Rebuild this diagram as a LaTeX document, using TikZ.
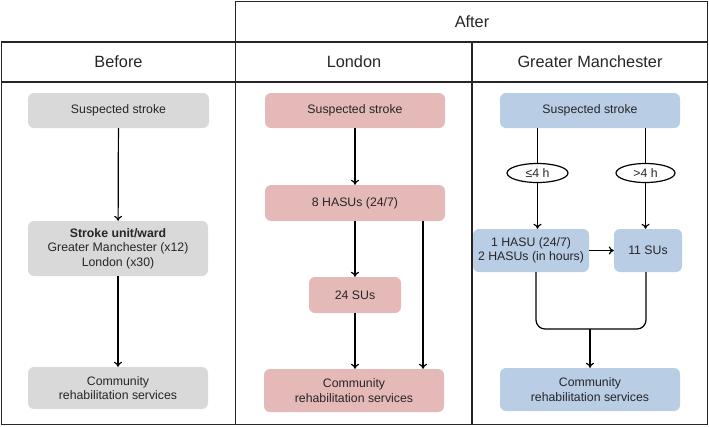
\documentclass[tikz,border=0pt]{standalone}
\usepackage{fontspec}
\setmainfont{Liberation Sans}
\usetikzlibrary{shapes.geometric,arrows.meta}
\definecolor{bgray}{HTML}{D9D9D9}
\definecolor{bpink}{HTML}{E6B9B9}
\definecolor{bblue}{HTML}{B9CDE5}
\begin{document}
\begin{tikzpicture}[x=1pt,y=-1pt,
  frame/.style={draw=black!85,line width=1.4pt},
  head/.style={font=\fontsize{16.3}{19}\selectfont,text=black!85},
  box/.style={rounded corners=6pt,align=center,inner sep=0pt,text=black!85,
    font=\fontsize{12.3}{14.4}\selectfont},
  gbox/.style={box,fill=bgray},
  pbox/.style={box,fill=bpink},
  lbox/.style={box,fill=bblue},
  oval/.style={ellipse,draw=black,line width=1.2pt,inner sep=0pt,
    font=\fontsize{12.3}{14.4}\selectfont,text=black!85},
  arr/.style={-{To[length=5pt,width=8pt]},line width=1.2pt},
  ln/.style={line width=1.2pt}]
\useasboundingbox (0,0) rectangle (709,426);
% table
\draw[frame] (1.5,42) rectangle (707.5,424.5);
\draw[frame] (235.5,1.5) rectangle (707.5,42);
\draw[frame] (1.5,82) -- (707.5,82);
\draw[frame] (235.5,42) -- (235.5,424.5);
\draw[frame] (472,42) -- (472,424.5);
\node[head] (hafter) at (472,22) {After};
\node[head] (hbefore) at (118.5,62) {Before};
\node[head] (hlondon) at (354,62) {London};
\node[head] (hgm) at (590,62) {Greater Manchester};
% Before
\node[gbox,minimum width=181pt,minimum height=35pt] (bs) at (118.5,110.5) {Suspected stroke};
\node[gbox,minimum width=180pt,minimum height=55pt] (bu) at (118,248.5) {\textbf{Stroke unit/ward}\\Greater Manchester (x12)\\London (x30)};
\node[gbox,minimum width=180pt,minimum height=42pt] (bc) at (118,388) {Community\\rehabilitation services};
\draw[arr] (bs) -- (bu);
\draw[arr] (bu) -- (bc);
% London
\node[pbox,minimum width=180pt,minimum height=35pt] (ls) at (355,110.5) {Suspected stroke};
\node[pbox,minimum width=180pt,minimum height=36pt] (lh) at (355,203) {8 HASUs (24/7)};
\node[pbox,minimum width=92pt,minimum height=36pt] (lsu) at (355,295) {24 SUs};
\node[pbox,minimum width=180pt,minimum height=43pt] (lc) at (354,390.5) {Community\\rehabilitation services};
\coordinate (lr) at (423,221);
\draw[arr] (ls) -- (lh);
\draw[arr] (lh) -- (lsu);
\draw[arr] (lsu.south) -- (lsu.south |- lc.north);
\draw[arr] (lr) -- (lr |- lc.north);
% Greater Manchester
\node[lbox,minimum width=180pt,minimum height=35pt] (gs) at (590,110.5) {Suspected stroke};
\node[oval,minimum width=61pt,minimum height=19pt] (e1) at (537.5,173) {≤4 h};
\node[oval,minimum width=59pt,minimum height=19pt] (e2) at (645.5,173) {>4 h};
\node[lbox,minimum width=116pt,minimum height=43pt] (gh) at (531,250.5) {1 HASU (24/7)\\2 HASUs (in hours)};
\node[lbox,minimum width=68pt,minimum height=43pt] (gsu) at (648,250.5) {11 SUs};
\node[lbox,minimum width=180pt,minimum height=43pt] (gc) at (590,389.5) {Community\\rehabilitation services};
\draw[ln] (e1 |- gs.south) -- (e1.north);
\draw[arr] (e1.south) -- (e1 |- gh.north);
\draw[ln] (e2 |- gs.south) -- (e2.north);
\draw[arr] (e2.south) -- (e2 |- gsu.north);
\draw[arr] (gh.east) -- (gsu.west);
\coordinate (m1) at (536,272);
\coordinate (m2) at (646,272);
\coordinate (mj) at (590,329);
\draw[ln,rounded corners=9pt] (m1) -- (m1 |- mj) -- (m2 |- mj) -- (m2);
\draw[arr] (mj) -- (gc.north);
\end{tikzpicture}
\end{document}
